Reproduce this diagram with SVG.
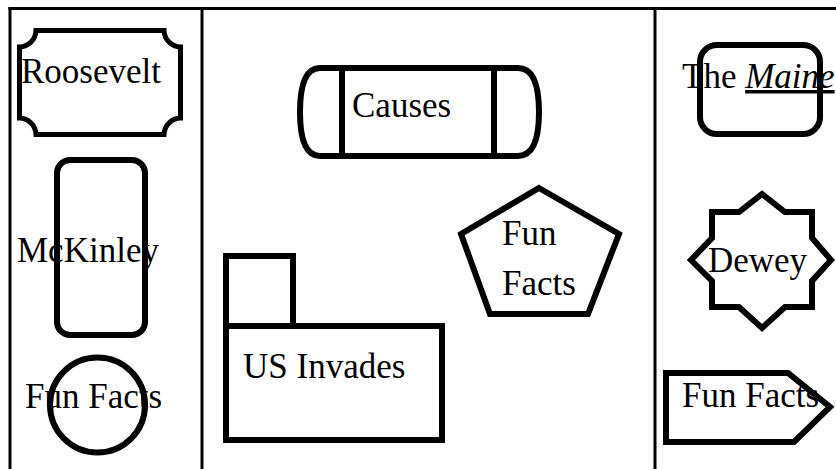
<svg xmlns="http://www.w3.org/2000/svg" width="836" height="469" viewBox="0 0 836 469">
  <style>
    .grid { stroke: #000; stroke-width: 3; fill: none; }
    .shape { fill: #fff; stroke: #000; stroke-width: 6; stroke-linejoin: miter; }
    .thin { stroke-width: 5; }
    .label { font-family: "Liberation Serif", "Times New Roman", serif; font-size: 35px; fill: #000; }
  </style>
  <rect width="836" height="469" fill="#fff"/>

  <!-- table frame: top rule, outer left edge, column dividers -->
  <g id="frame">
    <line class="grid" x1="8.5" y1="8.5" x2="836" y2="8.5"/>
    <line class="grid" x1="10" y1="7" x2="10" y2="469"/>
    <line class="grid" x1="202" y1="7" x2="202" y2="469"/>
    <line class="grid" x1="655" y1="7" x2="655" y2="469"/>
  </g>

  <g id="connectors"></g>

  <!-- left column -->
  <g id="roosevelt">
    <path class="shape thin" d="M36 30.5 L164 30.5 A17 17 0 0 0 180.5 47 L180.5 118 A17 17 0 0 0 164 134.5 L36 134.5 A17 17 0 0 0 19.5 118 L19.5 47 A17 17 0 0 0 36 30.5 Z"/>
    <text class="label" x="21" y="83">Roosevelt</text>
  </g>

  <g id="mckinley">
    <rect class="shape" x="57" y="160" width="88" height="175" rx="13" ry="13"/>
    <text class="label" x="17" y="262">McKinley</text>
  </g>

  <g id="fun-facts-circle">
    <circle class="shape" cx="97.5" cy="405" r="47.5"/>
    <text class="label" x="25" y="408">Fun Facts</text>
  </g>

  <!-- middle column -->
  <g id="causes">
    <path class="shape" d="M320 68 L518 68 Q539 68 539 112 Q539 156 518 156 L320 156 Q300 156 300 112 Q300 68 320 68 Z"/>
    <line class="shape" x1="342" y1="68" x2="342" y2="156"/>
    <line class="shape" x1="494" y1="68" x2="494" y2="156"/>
    <text class="label" x="352" y="117">Causes</text>
  </g>

  <g id="fun-facts-pentagon">
    <polygon class="shape" points="539,188 619,234 588,314 490,314 461,234"/>
    <text class="label" x="502" y="245">Fun</text>
    <text class="label" x="502" y="295">Facts</text>
  </g>

  <g id="us-invades">
    <rect class="shape" x="226" y="256" width="67" height="70"/>
    <rect class="shape" x="226" y="326" width="216" height="114"/>
    <text class="label" x="243" y="378">US Invades</text>
  </g>

  <!-- right column -->
  <g id="the-maine">
    <rect class="shape" x="700" y="45" width="120" height="89" rx="17" ry="17"/>
    <text class="label" x="682" y="88">The <tspan font-style="italic" text-decoration="underline">Maine</tspan></text>
  </g>

  <g id="dewey">
    <polygon class="shape" points="762,194 785,212 812,212 812,238 831,260 812,281 812,307 785,307 762,328 739,307 712,307 712,281 691,260 712,238 712,212 739,212"/>
    <text class="label" x="708" y="272">Dewey</text>
  </g>

  <g id="fun-facts-tag">
    <polygon class="shape" points="666,373 788,373 830,407 794,442 666,442"/>
    <text class="label" x="682" y="407">Fun Facts</text>
  </g>
</svg>
